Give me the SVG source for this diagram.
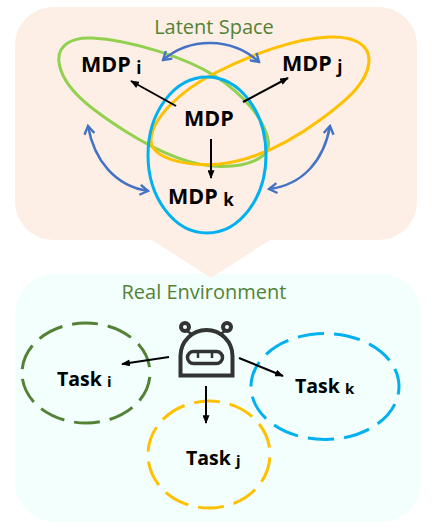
<svg xmlns="http://www.w3.org/2000/svg" width="436" height="529" viewBox="0 0 436 529">
<style>
text{font-family:"Open Sans","Noto Sans","Liberation Sans",sans-serif}
.t{font-size:20px;fill:#548235}
.m{font-size:21.500px;font-weight:700;fill:#000}
.k{font-size:19.500px;font-weight:700;fill:#000}
.s{font-size:17px;font-weight:700}
.u{font-size:15px;font-weight:700}
.e{fill:none;stroke-width:3}
.d{fill:none;stroke-width:3;stroke-dasharray:26 10}
.b{fill:none;stroke:#4472c4;stroke-width:2.500;marker-start:url(#o);marker-end:url(#o)}
.a{fill:none;stroke:#000;stroke-width:2;marker-end:url(#h)}
</style>
<defs>
<marker id="h" viewBox="0 0 10 8" refX="9" refY="4" markerWidth="9" markerHeight="7" orient="auto" markerUnits="userSpaceOnUse"><path d="M0 0L10 4L0 8Z" fill="#000"/></marker>
<marker id="o" viewBox="0 0 12 12" refX="10" refY="6" markerWidth="12" markerHeight="12" orient="auto-start-reverse" markerUnits="userSpaceOnUse"><path d="M2 1L10 6L2 11" fill="none" stroke="#4472c4" stroke-width="2.400"/></marker>
</defs>
<g id="real-environment">
<path d="M55 274H381A40 40 0 0 1 421 314V482A40 40 0 0 1 381 522H55A40 40 0 0 1 15 482V314A40 40 0 0 1 55 274Z" fill="#f2fffd"/>
<text class="t" x="204" y="299" text-anchor="middle">Real Environment</text>
</g>
<g id="latent-space">
<path d="M53 7H379A38 38 0 0 1 417 45V202A38 38 0 0 1 379 240H270L211 278L152 240H53A38 38 0 0 1 15 202V45A38 38 0 0 1 53 7Z" fill="#fdefe6"/>
<text class="t" x="214" y="34" text-anchor="middle">Latent Space</text>
</g>
<g id="mdp-i"><path class="e" d="M59 62C57 45 72 37 92 38C130 40 185 57 215 76C245 95 266 122 268.500 142C270 158 248 167 220 166.500C190 166 155 150 125 131C92 110 62 88 59 62Z" stroke="#92d050"/>
<text class="m" x="81" y="72">MDP <tspan class="s" dy="1.500">i</tspan></text></g>
<g id="mdp-j"><path class="e" d="M369 62C370 45 355 36 330 37C295 38 250 55 215 73C180 91 152 118 151 140C151 158 185 167 220 164C255 160 290 142 320 120C350 98 367 82 369 62Z" stroke="#ffc000"/>
<text class="m" x="282" y="71">MDP <tspan class="s" dy="1.500">j</tspan></text></g>
<g id="mdp-k"><ellipse class="e" cx="207" cy="155" rx="59" ry="78" stroke="#00b0f0"/>
<text class="m" x="168" y="204">MDP <tspan class="s" dy="1.500">k</tspan></text></g>
<g id="mdp"><text class="m" x="184" y="126">MDP</text></g>
<g id="task-i"><ellipse class="d" cx="86" cy="373" rx="64" ry="50" stroke="#548235" pathLength="360" stroke-dashoffset="-4"/>
<text class="k" x="57" y="386">Task <tspan class="u" dy="1">i</tspan></text></g>
<g id="task-k"><ellipse class="d" cx="325" cy="386.500" rx="74" ry="53" stroke="#00b0f0" pathLength="396" stroke-dashoffset="18"/>
<text class="k" x="295" y="393">Task <tspan class="u" dy="1">k</tspan></text></g>
<g id="task-j"><ellipse class="d" cx="209" cy="454.500" rx="61" ry="53.500" stroke="#ffc000" pathLength="360" stroke-dashoffset="-3"/>
<text class="k" x="186" y="465">Task <tspan class="u" dy="1">j</tspan></text></g>
<g id="robot" fill="none" stroke="#333" stroke-width="4">
<path d="M180.500 375.500V356A26 26 0 0 1 232.500 356V375.500Z"/>
<rect x="187.500" y="351.500" width="35" height="12" rx="6" stroke-width="3.500"/>
<path d="M198 352V358M212 352V358" stroke-width="2.500"/>
<circle cx="185" cy="327" r="4"/><circle cx="227" cy="327" r="4"/>
<path d="M187 331L193 335M225 331L219 335" stroke-width="2.500"/>
</g>
<g id="connectors">
<path class="b" d="M163 60C190 37 232 37 259 62"/>
<path class="b" d="M88 126C94 160 115 186 148 191"/>
<path class="b" d="M330 126C324 160 303 185 269 189"/>
<path class="a" d="M176 106L131 81"/>
<path class="a" d="M243 102L288 78"/>
<path class="a" d="M211 139V178"/>
<path class="a" d="M169 357L122 364"/>
<path class="a" d="M239 358L283 376"/>
<path class="a" d="M206 386V423"/>
</g>
</svg>
